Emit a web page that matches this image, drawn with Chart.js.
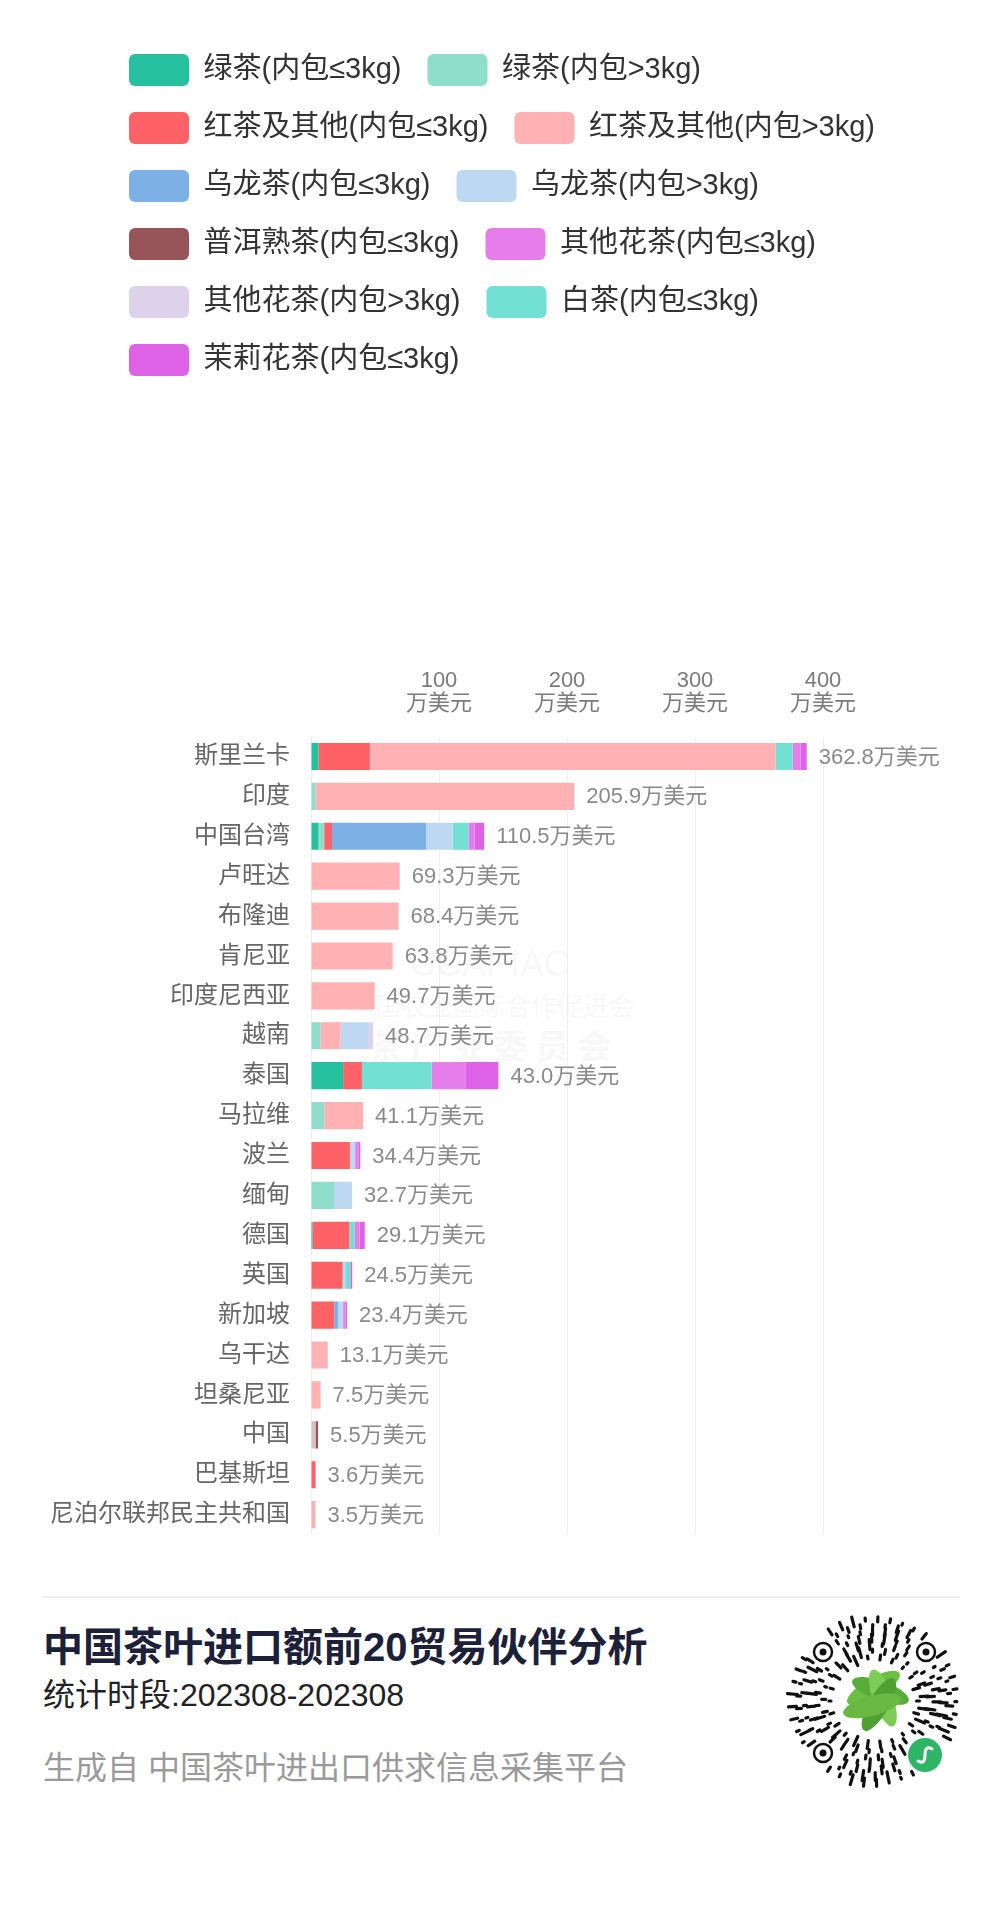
<!DOCTYPE html>
<html lang="zh-CN">
<head>
<meta charset="utf-8">
<title>中国茶叶进口额前20贸易伙伴分析</title>
<script src="https://cdn.jsdelivr.net/npm/chart.js@4.4.1/dist/chart.umd.min.js"></script>
<style>
  html, body { margin: 0; padding: 0; background: #fff; overflow: hidden; }
  #page { position: relative; width: 1000px; height: 1906px; font-family: 'Liberation Sans', 'Noto Sans CJK SC', sans-serif; }
  #chart { position: absolute; left: 0; top: 0; }
  .sep { position: absolute; left: 43px; top: 1596px; width: 917px; height: 2px; background: #efefef; }
  .txt { position: absolute; left: 43px; white-space: nowrap; line-height: 1; }
  #title { top: 1627px; font-size: 40px; font-weight: 700; color: #1c2038; }
  #period { top: 1679px; font-size: 32px; color: #222; }
  #source { top: 1752px; font-size: 32px; color: #9a9a9a; }
  #qr { position: absolute; left: 784px; top: 1611px; }
</style>
</head>
<body>
<div id="page">
  <canvas id="chart" width="1000" height="1570"></canvas>
  <div class="sep"></div>
  <div class="txt" id="title">中国茶叶进口额前20贸易伙伴分析</div>
  <div class="txt" id="period">统计时段:202308-202308</div>
  <div class="txt" id="source">生成自 中国茶叶进出口供求信息采集平台</div>
  <svg id="qr" width="180" height="180" viewBox="0 0 180 180"></svg>
</div>
<script>
// 贸易伙伴
const categories = ['斯里兰卡', '印度', '中国台湾', '卢旺达', '布隆迪', '肯尼亚', '印度尼西亚', '越南', '泰国', '马拉维',
  '波兰', '缅甸', '德国', '英国', '新加坡', '乌干达', '坦桑尼亚', '中国', '巴基斯坦', '尼泊尔联邦民主共和国'];

// 条形右侧标注的进口额（万美元）
const totals = [362.8, 205.9, 110.5, 69.3, 68.4, 63.8, 49.7, 48.7, 43.0, 41.1,
  34.4, 32.7, 29.1, 24.5, 23.4, 13.1, 7.5, 5.5, 3.6, 3.5];

const seriesNames = ['绿茶(内包≤3kg)', '绿茶(内包>3kg)', '红茶及其他(内包≤3kg)', '红茶及其他(内包>3kg)',
  '乌龙茶(内包≤3kg)', '乌龙茶(内包>3kg)', '普洱熟茶(内包≤3kg)', '其他花茶(内包≤3kg)',
  '其他花茶(内包>3kg)', '白茶(内包≤3kg)', '茉莉花茶(内包≤3kg)'];

// 各品类数值，按 categories 顺序
const greenSmall  = [5.8, 0, 5.8, 0, 0, 0, 0, 0, 25.1, 0, 0, 0, 1.2, 0, 0, 0, 0, 0, 0, 0];
const greenBig    = [0, 3.7, 4.5, 0, 0, 0, 0, 7.5, 0, 10.3, 0, 18.0, 0, 0, 0, 0, 0, 1.5, 0, 0];
const blackSmall  = [40.2, 0, 6.1, 0, 0, 0, 0, 0, 14.7, 0, 30.4, 0, 28.8, 24.7, 18.1, 0, 0, 0, 3.6, 0];
const blackBig    = [317.0, 202.0, 0, 69.3, 68.4, 63.8, 49.7, 15.6, 0, 30.4, 0, 0, 0, 0, 0, 13.1, 7.5, 2.0, 0, 3.5];
const oolongSmall = [0, 0, 73.7, 0, 0, 0, 0, 0, 0, 0, 0, 0, 0, 0, 3.0, 0, 0, 0, 0, 0];
const oolongBig   = [0, 0, 20.6, 0, 0, 0, 0, 22.1, 0, 0, 4.1, 14.1, 0, 2.0, 4.0, 0, 0, 0, 0, 0];
const puerSmall   = [0, 0, 0, 0, 0, 0, 0, 0, 0, 0, 0, 0, 0, 0, 0, 0, 0, 2.0, 0, 0];
const flowerSmall = [6.3, 0, 4.9, 0, 0, 0, 0, 0, 26.8, 0, 2.5, 0, 4.0, 0, 2.0, 0, 0, 0, 0, 0];
const flowerBig   = [0, 0, 0, 0, 0, 0, 0, 3.3, 0, 0, 0, 0, 0, 0, 0, 0, 0, 0, 0, 0];
const whiteSmall  = [13.3, 0, 12.3, 0, 0, 0, 0, 0, 54.4, 0, 0, 0, 4.0, 4.0, 0, 0, 0, 0, 0, 0];
const jasmineSmall= [4.7, 0, 7.4, 0, 0, 0, 0, 0, 25.4, 0, 1.5, 0, 4.0, 1.5, 1.0, 0, 0, 0, 0, 0];

const seriesValues = [greenSmall, greenBig, blackSmall, blackBig, oolongSmall, oolongBig,
  puerSmall, flowerSmall, flowerBig, whiteSmall, jasmineSmall];
const seriesColors = ['#25c19f', '#8fddcb', '#ff6266', '#ffb1b4', '#7db1e5', '#bfd8f1',
  '#975559', '#e57eea', '#dcd3eb', '#72e1d4', '#dd62e6'];
// 堆叠顺序（图例仍按原顺序）
const stackOrder = [0, 1, 2, 3, 4, 5, 6, 9, 7, 8, 10];

const xTickValues = [100, 200, 300, 400];
const xTickUnit = '万美元';

Chart.defaults.font.family = "'Liberation Sans', 'Noto Sans CJK SC', sans-serif";

// legend sits far above the plot, and starts further right than the axis labels
const legendSpace = {
  id: 'legendSpace',
  beforeInit(chart) {
    const fit = chart.legend.fit;
    chart.legend.fit = function () {
      this.maxWidth = 897;
      fit.call(this);
      this.height = 642;
    };
  },
  afterLayout(chart) {
    chart.legend.left = 103;
    chart.legend.right = 1000;
  }
};

const watermark = {
  id: 'watermark',
  beforeDatasetsDraw(chart) {
    const c = chart.ctx;
    c.save();
    c.fillStyle = 'rgba(150,150,150,0.07)';
    c.textAlign = 'center';
    c.textBaseline = 'middle';
    c.font = "36px 'Liberation Sans'";
    c.fillText('CCAPIAC', 490, 966);
    c.font = "26px 'Noto Sans CJK SC'";
    c.fillText('中国农业国际合作促进会', 492, 1006);
    c.font = "bold 34px 'Noto Sans CJK SC'";
    c.fillText('茶 产 业 委 员 会', 490, 1046);
    c.restore();
  }
};

const totalLabels = {
  id: 'totalLabels',
  afterDatasetsDraw(chart) {
    const c = chart.ctx;
    c.save();
    c.font = "22px 'Liberation Sans', 'Noto Sans CJK SC'";
    c.fillStyle = '#8a8a8a';
    c.textAlign = 'left';
    c.textBaseline = 'middle';
    categories.forEach((name, i) => {
      let end = chart.scales.x.getPixelForValue(0), y = 0;
      chart.data.datasets.forEach((ds, d) => {
        const bar = chart.getDatasetMeta(d).data[i];
        y = bar.y;
        if (ds.data[i] > 0) end = Math.max(end, bar.x);
      });
      c.fillText(totals[i].toFixed(1) + '万美元', end + 12, y + 1);
    });
    c.restore();
  }
};

new Chart(document.getElementById('chart'), {
  type: 'bar',
  data: {
    labels: categories,
    datasets: seriesNames.map((name, k) => ({
      label: name,
      data: seriesValues[k],
      backgroundColor: seriesColors[k],
      borderWidth: 0,
      order: stackOrder[k],
      barPercentage: 0.68,
      categoryPercentage: 1
    }))
  },
  options: {
    indexAxis: 'y',
    responsive: false,
    animation: false,
    events: [],
    layout: { padding: { left: 0, right: 177, top: 28, bottom: 33.5 } },
    scales: {
      x: {
        position: 'top',
        stacked: true,
        min: 0,
        max: 400,
        ticks: {
          stepSize: 100,
          padding: 21,
          color: '#7a7a7a',
          font: { size: 22, lineHeight: 1.05 },
          callback: v => xTickValues.includes(v) ? [String(v), xTickUnit] : ''
        },
        grid: { color: '#efefef', drawTicks: false },
        border: { display: false },
        afterFit: s => { s.height = 66.5; }
      },
      y: {
        stacked: true,
        ticks: { padding: 21, color: '#666', font: { size: 24 } },
        grid: { display: false, drawTicks: false },
        border: { display: false },
        afterFit: s => { s.width = 311; }
      }
    },
    plugins: {
      tooltip: { enabled: false },
      legend: {
        position: 'top',
        align: 'start',
        labels: {
          boxWidth: 60,
          boxHeight: 32,
          padding: 26,
          useBorderRadius: true,
          borderRadius: 6,
          color: '#333',
          font: { size: 29 },
          sort: (a, b) => a.datasetIndex - b.datasetIndex
        }
      }
    }
  },
  plugins: [legendSpace, watermark, totalLabels]
});

// 小程序码（装饰）
(function drawCode() {
  const svg = document.getElementById('qr');
  const cx = 90, cy = 90;
  const lens = [3, 7, 4, 10, 3, 5, 8, 2];
  const finders = [[39, 41], [142, 41], [39, 142]];
  let out = '';
  for (let r = 0; r < 7; r++) {
    const rad = 44 + r * 6.3;
    const n = Math.round(rad * 0.5);
    for (let k = 0; k < n; k++) {
      const a = (k / n) * Math.PI * 2 + r * 0.41;
      const len = lens[(k * 5 + r * 3) % lens.length];
      const px = cx + Math.cos(a) * rad, py = cy + Math.sin(a) * rad;
      if (finders.some(f => Math.hypot(px - f[0], py - f[1]) < 15)) continue;
      if (Math.hypot(px - 141, py - 144) < 22) continue;
      const x1 = cx + Math.cos(a) * (rad - len / 2), y1 = cy + Math.sin(a) * (rad - len / 2);
      const x2 = cx + Math.cos(a) * (rad + len / 2), y2 = cy + Math.sin(a) * (rad + len / 2);
      out += `<line x1="${x1.toFixed(1)}" y1="${y1.toFixed(1)}" x2="${x2.toFixed(1)}" y2="${y2.toFixed(1)}" stroke="#111" stroke-width="3.2" stroke-linecap="round"/>`;
    }
  }
  finders.forEach(f => {
    out += `<circle cx="${f[0]}" cy="${f[1]}" r="9" fill="none" stroke="#111" stroke-width="2.5"/>`;
    out += `<circle cx="${f[0]}" cy="${f[1]}" r="3.5" fill="#111"/>`;
  });
  const leaves = [[-30, '#6cbf45'], [20, '#58ad3a'], [70, '#7ccc55'], [120, '#4f9f33'], [165, '#68b842']];
  leaves.forEach(l => {
    out += `<ellipse cx="${cx}" cy="${cy - 4}" rx="30" ry="10" fill="${l[1]}" transform="rotate(${l[0]} ${cx} ${cy - 4}) translate(4 -8)"/>`;
  });
  out += `<circle cx="141" cy="144" r="17" fill="#2fb566"/>`;
  out += `<path d="M134 150 q7 4 7 -6 q0 -10 7 -6" fill="none" stroke="#fff" stroke-width="3" stroke-linecap="round"/>`;
  svg.innerHTML = out;
})();
</script>
</body>
</html>
